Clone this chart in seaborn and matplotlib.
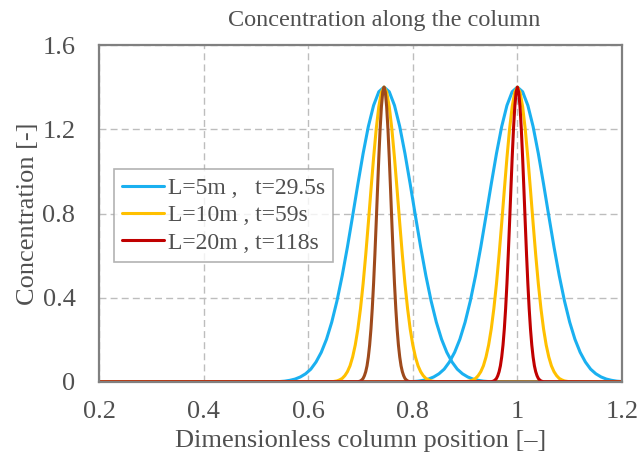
import matplotlib
matplotlib.use("Agg")
import matplotlib.pyplot as plt
import numpy as np
import pandas as pd
import seaborn as sns

# peak positions (dimensionless)
peak_centres = [0.745, 1.0]

# half-profiles of each peak: distance from the peak centre and concentration
dx_5m = [0.0, 0.01, 0.02, 0.03, 0.04, 0.05, 0.06, 0.07, 0.08, 0.09, 0.10,
         0.11, 0.12, 0.13, 0.14, 0.15, 0.16, 0.17, 0.18, 0.19, 0.20]
c_5m = [1.400, 1.378, 1.313, 1.213, 1.085, 0.940, 0.789, 0.641, 0.505, 0.385, 0.284,
        0.203, 0.141, 0.095, 0.061, 0.039, 0.024, 0.014, 0.008, 0.004, 0.002]

dx_10m = [0.0, 0.005, 0.010, 0.015, 0.020, 0.025, 0.030, 0.035, 0.040, 0.045, 0.050,
          0.055, 0.060, 0.065, 0.070, 0.075, 0.080, 0.085, 0.090, 0.095, 0.100]
c_10m = [1.400, 1.376, 1.307, 1.200, 1.064, 0.912, 0.755, 0.604, 0.467, 0.349, 0.252,
         0.176, 0.119, 0.077, 0.049, 0.030, 0.017, 0.010, 0.005, 0.003, 0.001]

dx_20m = [0.0, 0.0025, 0.005, 0.0075, 0.010, 0.0125, 0.015, 0.0175, 0.020, 0.0225, 0.025,
          0.0275, 0.030, 0.0325, 0.035, 0.0375, 0.040, 0.0425, 0.045, 0.0475, 0.050]
c_20m = [1.400, 1.376, 1.307, 1.200, 1.064, 0.912, 0.755, 0.604, 0.467, 0.349, 0.252,
         0.176, 0.119, 0.077, 0.049, 0.030, 0.017, 0.010, 0.005, 0.003, 0.001]

series_labels = ["L=5m ,   t=29.5s", "L=10m , t=59s", "L=20m , t=118s"]
series_colors = ["#1AB0F0", "#FFC000", "#C00000"]
left_peak_colors = ["#1AB0F0", "#FFC000", "#9E4A1C"]

x_ticks = [0.2, 0.4, 0.6, 0.8, 1.0, 1.2]
x_tick_labels = ["0.2", "0.4", "0.6", "0.8", "1", "1.2"]
y_ticks = [0, 0.4, 0.8, 1.2, 1.6]
y_tick_labels = ["0", "0.4", "0.8", "1.2", "1.6"]

profiles = [(dx_5m, c_5m), (dx_10m, c_10m), (dx_20m, c_20m)]

rows = []
for label, (dx, c) in zip(series_labels, profiles):
    dx = np.array(dx)
    c = np.array(c)
    for k, centre in enumerate(peak_centres):
        xs = np.concatenate([[0.2], centre - dx[::-1], centre + dx[1:], [1.2]])
        ys = np.concatenate([[0.0], c[::-1], c[1:], [0.0]])
        for xv, yv in zip(xs, ys):
            rows.append({"x": xv, "conc": yv, "series": label, "peak": k})
df = pd.DataFrame(rows)

sns.set_theme(style="white")
plt.rcParams["font.family"] = ["Liberation Serif", "DejaVu Serif"]
text_color = "#505050"

fig = plt.figure(figsize=(6.41, 4.59), dpi=100)
ax = fig.add_axes([99 / 641, 1 - 382 / 459, 523 / 641, 337 / 459])

handles = []
for i, label in enumerate(series_labels):
    for k in range(len(peak_centres)):
        sub = df[(df["series"] == label) & (df["peak"] == k)]
        color = left_peak_colors[i] if k == 0 else series_colors[i]
        sns.lineplot(data=sub, x="x", y="conc", sort=False, estimator=None,
                     color=color, linewidth=2.2, ax=ax)
    handles.append(plt.Line2D([], [], color=series_colors[i], linewidth=2.2))

ax.set_xlim(0.2, 1.2)
ax.set_ylim(0, 1.6)
ax.set_xticks(x_ticks)
ax.set_xticklabels(x_tick_labels)
ax.set_yticks(y_ticks)
ax.set_yticklabels(y_tick_labels)
ax.tick_params(axis="both", length=0, labelsize=19, labelcolor=text_color)
ax.tick_params(axis="x", pad=14)
ax.tick_params(axis="y", pad=17)

ax.grid(True, color="#BDBDBD", linestyle=(0, (5, 3)), linewidth=1.0)
for s in ax.spines.values():
    s.set_color("#808080")
    s.set_linewidth(1.6)
    s.set_visible(True)

ax.set_title("Concentration along the column", fontsize=17.5, color=text_color,
             pad=14, x=0.545)
ax.set_xlabel("Dimensionless column position [\u2013]", fontsize=19, color=text_color, labelpad=5)
ax.set_ylabel("Concentration [-]", fontsize=19, color=text_color, labelpad=2)

leg = ax.legend(handles, series_labels, loc="upper left", bbox_to_anchor=(0.028, 0.632),
                fontsize=17, frameon=True, fancybox=False, borderaxespad=0,
                handlelength=1.8, handletextpad=0.15, labelspacing=0.25,
                borderpad=0.35)
leg.get_frame().set_edgecolor("#A0A0A0")
leg.get_frame().set_linewidth(1.2)
for t in leg.get_texts():
    t.set_color(text_color)

fig.savefig("out.png", dpi=100)
